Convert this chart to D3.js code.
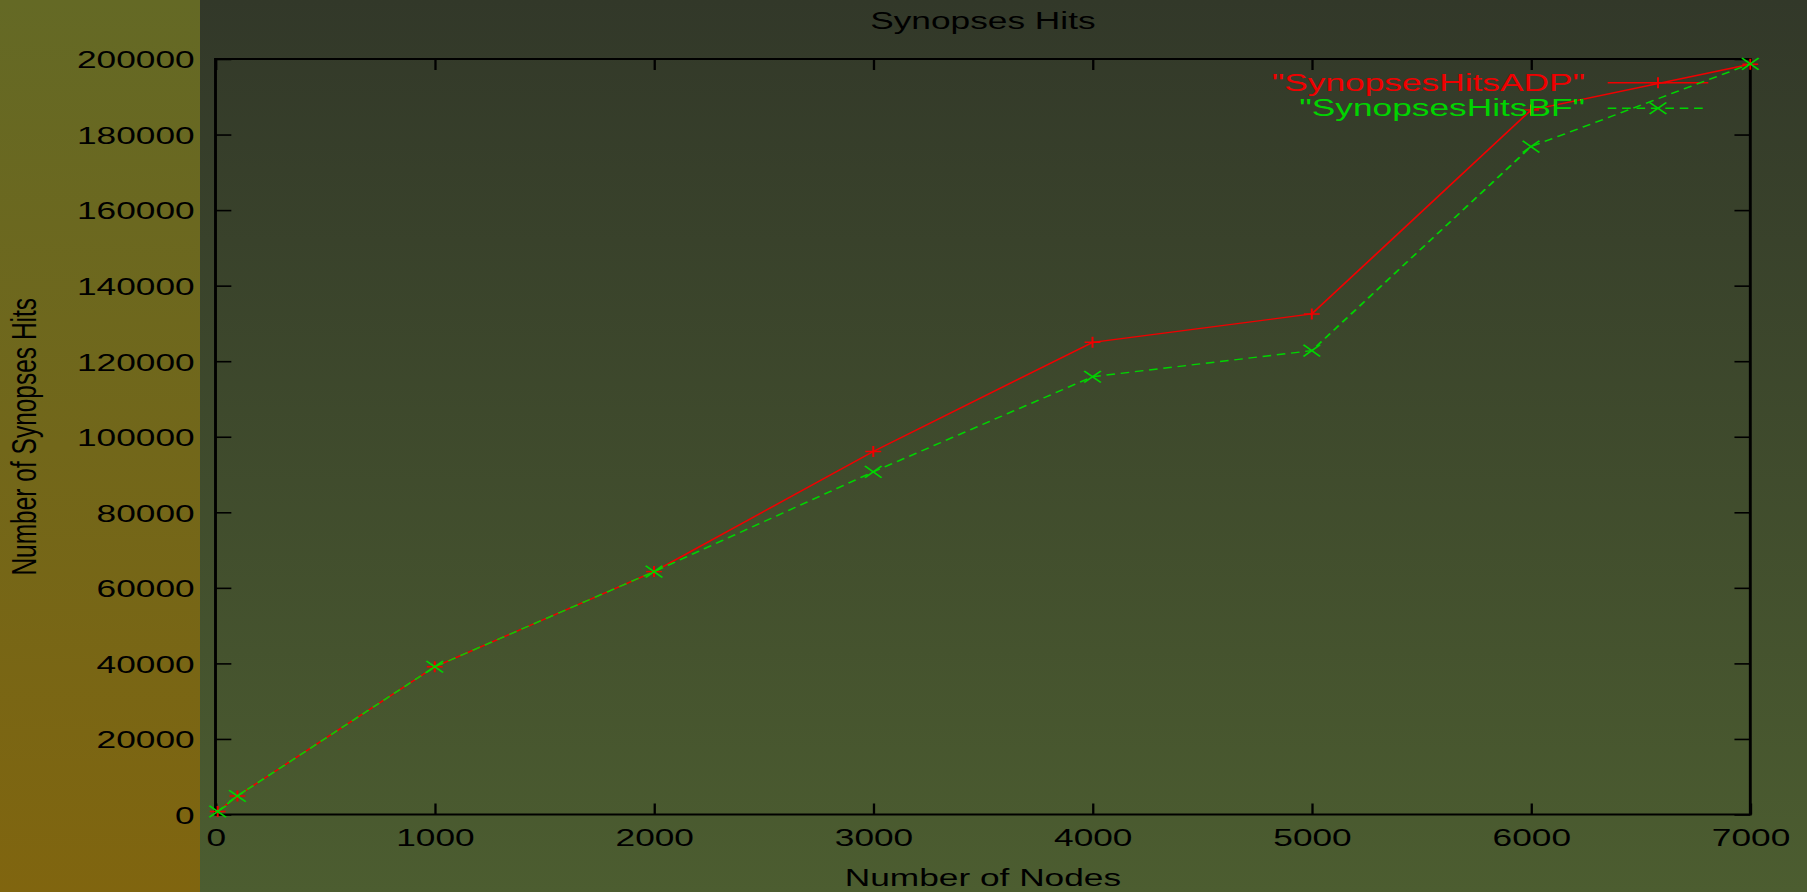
<!DOCTYPE html>
<html>
<head>
<meta charset="utf-8">
<script src="https://cdn.jsdelivr.net/npm/d3@7"></script>
<style>
  html, body { margin: 0; padding: 0; background: #3d4a2c; }
  svg { display: block; }
  text { font-family: "Liberation Sans", Arial, sans-serif; fill: #000; }
</style>
</head>
<body>
<svg id="chart"></svg>
<script>
// ---- data ----
const nodes   = [10, 100, 1000, 2000, 3000, 4000, 5000, 6000, 7000];
const hitsADP = [800, 4900, 39100, 64300, 96100, 125000, 132500, 186500, 198600];
const hitsBF  = [800, 4900, 39100, 64300, 90700, 115900, 122800, 176800, 198700];
const seriesNames = ['"SynopsesHitsADP"', '"SynopsesHitsBF"'];
const xTicks = [0, 1000, 2000, 3000, 4000, 5000, 6000, 7000];
const yTicks = [0, 20000, 40000, 60000, 80000, 100000, 120000, 140000, 160000, 180000, 200000];
const chartTitle = "Synopses Hits";
const xTitle = "Number of Nodes";
const yTitle = "Number of Synopses Hits";

// ---- layout ----
const W = 1807, H = 892;
const SX = 1.44;               // horizontal stretch of the whole drawing
const VW = W / SX;             // drawing width in local units
const plotL = 215.5 / SX, plotR = 1750.3 / SX, plotT = 59, plotB = 814.5;
const bandW = 200 / SX;
const fontSize = 24.5;

const svg = d3.select("#chart")
  .attr("width", W).attr("height", H)
  .attr("viewBox", `0 0 ${VW} ${H}`)
  .attr("preserveAspectRatio", "none");

// background gradients
const defs = svg.append("defs");
const g1 = defs.append("linearGradient").attr("id", "bgMain").attr("x1", 0).attr("y1", 0).attr("x2", 0).attr("y2", 1);
g1.append("stop").attr("offset", "0%").attr("stop-color", "#323829");
g1.append("stop").attr("offset", "100%").attr("stop-color", "#4c5d30");
const g2 = defs.append("linearGradient").attr("id", "bgBand").attr("x1", 0).attr("y1", 0).attr("x2", 0).attr("y2", 1);
g2.append("stop").attr("offset", "0%").attr("stop-color", "#646925");
g2.append("stop").attr("offset", "100%").attr("stop-color", "#80650f");

svg.append("rect").attr("x", 0).attr("y", 0).attr("width", VW).attr("height", H).attr("fill", "url(#bgMain)");
svg.append("rect").attr("x", 0).attr("y", 0).attr("width", bandW).attr("height", H).attr("fill", "url(#bgBand)");

// scales
const x = d3.scaleLinear().domain([0, 7000]).range([plotL, plotR]);
const y = d3.scaleLinear().domain([0, 200000]).range([plotB, plotT]);

const tickLen = 11;
const axisColor = "#000";

// axes: ticks point inward, mirrored on top and right
function styleAxis(g) {
  g.select(".domain").remove();
  g.selectAll(".tick line").attr("stroke", axisColor).attr("stroke-width", 1.6);
}

svg.append("g").attr("transform", `translate(0,${plotB})`)
  .call(d3.axisBottom(x).tickValues(xTicks).tickSize(-tickLen).tickFormat(d3.format("d")))
  .call(styleAxis)
  .call(g => g.selectAll(".tick text")
    .attr("y", 32).attr("dy", null)
    .attr("font-size", fontSize).attr("fill", "#000"));

svg.append("g").attr("transform", `translate(0,${plotT})`)
  .call(d3.axisTop(x).tickValues(xTicks).tickSize(-tickLen).tickFormat(""))
  .call(styleAxis);

svg.append("g").attr("transform", `translate(${plotL},0)`)
  .call(d3.axisLeft(y).tickValues(yTicks).tickSize(-tickLen).tickFormat(d3.format("d")))
  .call(styleAxis)
  .call(g => g.selectAll(".tick text")
    .attr("x", -14.5).attr("dy", "0.36em")
    .attr("font-size", fontSize).attr("fill", "#000"));

svg.append("g").attr("transform", `translate(${plotR},0)`)
  .call(d3.axisRight(y).tickValues(yTicks).tickSize(-tickLen).tickFormat(""))
  .call(styleAxis);

// border
svg.append("rect")
  .attr("x", plotL).attr("y", plotT)
  .attr("width", plotR - plotL).attr("height", plotB - plotT)
  .attr("fill", "none").attr("stroke", axisColor).attr("stroke-width", 2);

// titles
svg.append("text").attr("x", (plotL + plotR) / 2).attr("y", 29.3)
  .attr("text-anchor", "middle").attr("font-size", fontSize).text(chartTitle);
svg.append("text").attr("x", (plotL + plotR) / 2).attr("y", 886)
  .attr("text-anchor", "middle").attr("font-size", fontSize).text(xTitle);
svg.append("text")
  .attr("transform", `translate(${36 / SX},${(plotT + plotB) / 2}) rotate(-90)`)
  .attr("text-anchor", "middle").attr("font-size", fontSize).text(yTitle);

// series
const red = "#f00000", green = "#00d400";
const line = d3.line().x(d => x(d[0])).y(d => y(d[1]));
const adp = nodes.map((n, i) => [n, hitsADP[i]]);
const bf  = nodes.map((n, i) => [n, hitsBF[i]]);

const plusPath = (cx, cy, r) => `M${cx - r},${cy}H${cx + r}M${cx},${cy - r}V${cy + r}`;
const crossPath = (cx, cy, r) => `M${cx - r},${cy - r}L${cx + r},${cy + r}M${cx - r},${cy + r}L${cx + r},${cy - r}`;

// legend positions
const legTextX = 1585 / SX;
const legLineX0 = 1607.7 / SX, legLineX1 = 1708.3 / SX;
const legRows = [82.7, 108.3];

// ADP: solid red with "+" markers
svg.append("text").attr("x", legTextX).attr("y", legRows[0] + 8)
  .attr("text-anchor", "end").attr("font-size", fontSize).style("fill", red).text(seriesNames[0]);
svg.append("line").attr("x1", legLineX0).attr("x2", legLineX1).attr("y1", legRows[0]).attr("y2", legRows[0])
  .attr("stroke", red).attr("stroke-width", 1.4);
svg.append("path").attr("d", plusPath((legLineX0 + legLineX1) / 2, legRows[0], 5.5))
  .attr("stroke", red).attr("stroke-width", 1.4).attr("fill", "none");

svg.append("path").datum(adp).attr("d", line)
  .attr("fill", "none").attr("stroke", red).attr("stroke-width", 1.4);
svg.append("g").selectAll("path").data(adp).join("path")
  .attr("d", d => plusPath(x(d[0]), y(d[1]), 5.5))
  .attr("stroke", red).attr("stroke-width", 1.4).attr("fill", "none");

// BF: dashed green with "x" markers
svg.append("text").attr("x", legTextX).attr("y", legRows[1] + 8)
  .attr("text-anchor", "end").attr("font-size", fontSize).style("fill", green).text(seriesNames[1]);
svg.append("line").attr("x1", legLineX0).attr("x2", legLineX1).attr("y1", legRows[1]).attr("y2", legRows[1])
  .attr("stroke", green).attr("stroke-width", 1.4).attr("stroke-dasharray", "6,4");
svg.append("path").attr("d", crossPath((legLineX0 + legLineX1) / 2, legRows[1], 5.8))
  .attr("stroke", green).attr("stroke-width", 1.4).attr("fill", "none");

svg.append("path").datum(bf).attr("d", line)
  .attr("fill", "none").attr("stroke", green).attr("stroke-width", 1.4).attr("stroke-dasharray", "6,4");
svg.append("g").selectAll("path").data(bf).join("path")
  .attr("d", d => crossPath(x(d[0]), y(d[1]), 5.8))
  .attr("stroke", green).attr("stroke-width", 1.4).attr("fill", "none");
</script>
</body>
</html>
